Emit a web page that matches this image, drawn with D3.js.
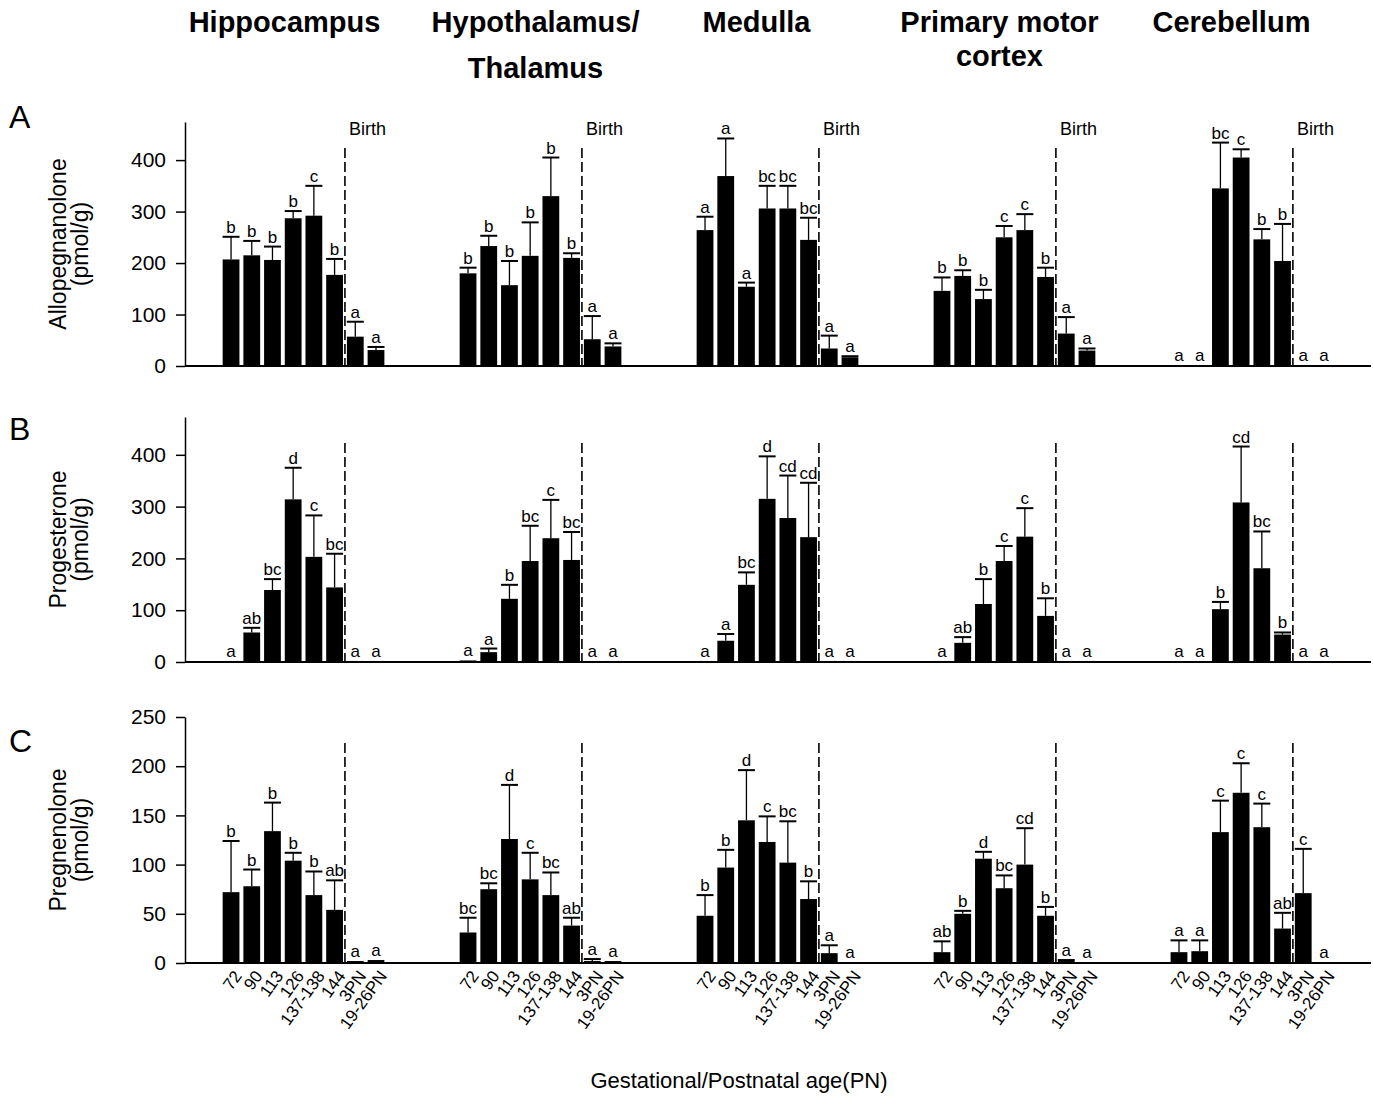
<!DOCTYPE html>
<html><head><meta charset="utf-8">
<script src="https://cdn.jsdelivr.net/npm/d3@7"></script>
<style>
body{margin:0;background:#fff}
text{font-family:Arial,"Liberation Sans",Helvetica,sans-serif;fill:#000}
</style>
</head><body>
<svg id="c" width="1373" height="1096"></svg>
<script>
// ---------------- DATA ----------------
const regions = ["Hippocampus","Hypothalamus/Thalamus","Medulla","Primary motor cortex","Cerebellum"];
const regionTitleLines = [["Hippocampus"],["Hypothalamus/","Thalamus"],["Medulla"],["Primary motor","cortex"],["Cerebellum"]];
const ages = ["72","90","113","126","137-138","144","3PN","19-26PN"];

// A: Allopregnanolone (pmol/g) — mean per region x age
const alloMean = [
  [207,215,206,287,292,177,57,31],
  [180,233,157,214,330,210,52,38],
  [264,369,154,306,306,245,34,17],
  [146,175,130,250,264,173,63,30],
  [1,1,345,405,246,204,1,1]
];
const alloSem = [
  [44,28,26,14,58,31,29,6],
  [11,20,47,65,75,9,45,6],
  [26,73,8,44,44,43,25,2],
  [26,11,18,22,31,18,32,4],
  [0,0,89,16,20,72,0,0]
];
const alloSig = [
  ["b","b","b","b","c","b","a","a"],
  ["b","b","b","b","b","b","a","a"],
  ["a","a","a","bc","bc","bc","a","a"],
  ["b","b","b","c","c","b","a","a"],
  ["a","a","bc","c","b","b","a","a"]
];

// B: Progesterone (pmol/g)
const progMean = [
  [2,57,139,314,203,144,2,2],
  [3,19,122,195,239,197,2,2],
  [2,41,149,315,278,241,2,2],
  [2,37,112,195,242,89,2,2],
  [1,1,102,308,181,53,1,1]
];
const progSem = [
  [0,9,21,61,80,65,0,0],
  [0,7,27,68,74,54,0,0],
  [0,13,24,82,82,105,0,0],
  [0,11,48,29,55,34,0,0],
  [0,0,14,108,71,4,0,0]
];
const progSig = [
  ["a","ab","bc","d","c","bc","a","a"],
  ["a","a","b","bc","c","bc","a","a"],
  ["a","a","bc","d","cd","cd","a","a"],
  ["a","ab","b","c","c","b","a","a"],
  ["a","a","b","cd","bc","b","a","a"]
];

// C: Pregnenolone (pmol/g)
const pregMean = [
  [72,78,134,104,69,54,2,3],
  [31,75,126,85,69,38,2,2],
  [48,97,145,123,102,65,10,1],
  [11,50,106,76,100,48,2,1],
  [11,12,133,173,138,35,71,1]
];
const pregSem = [
  [52,17,29,8,24,30,0,0],
  [15,6,55,27,23,8,2,0],
  [21,18,51,26,42,18,8,0],
  [11,3,7,13,37,9,1,0],
  [12,11,32,30,24,16,45,0]
];
const pregSig = [
  ["b","b","b","b","b","ab","a","a"],
  ["bc","bc","d","c","bc","ab","a","a"],
  ["b","b","d","c","bc","b","a","a"],
  ["ab","b","d","bc","cd","b","a","a"],
  ["a","a","c","c","c","ab","c","a"]
];

const alloTicks = [0,100,200,300,400];
const progTicks = [0,100,200,300,400];
const pregTicks = [0,50,100,150,200,250];

// ---------------- LAYOUT ----------------
const svg = d3.select("#c");
const axisX = 185, axisRight = 1371;
const x0 = d3.scaleBand().domain(regions).range([220.7, 1334.3]).paddingInner(0.301).paddingOuter(0);
const x1 = d3.scaleBand().domain(ages).range([0, x0.bandwidth()]).paddingInner(0.19).paddingOuter(0.095);
const titleDx = [-19, -5, -21, -15, -20];

// Column titles
regions.forEach((r, i) => {
  const cx = x0(r) + x0.bandwidth() / 2 + titleDx[i];
  const lines = regionTitleLines[i];
  const gaps = lines.length > 1 && i === 1 ? 46 : 34;
  lines.forEach((t, j) => {
    svg.append("text").attr("x", cx).attr("y", 32 + j * gaps)
      .attr("text-anchor", "middle").attr("font-size", 29).attr("font-weight", "bold").text(t);
  });
});

function panel(cfg) {
  const g = svg.append("g");
  const y = d3.scaleLinear().domain([0, cfg.max]).range([cfg.y0, cfg.yTop]);
  // panel letter
  g.append("text").attr("x", 9).attr("y", cfg.letterY).attr("font-size", 32).text(cfg.letter);
  // y axis title
  const cy = (cfg.y0 + cfg.yTop) / 2;
  g.append("text").attr("transform", `translate(66,${cy}) rotate(-90)`)
    .attr("text-anchor", "middle").attr("font-size", 23).text(cfg.yTitle[0]);
  g.append("text").attr("transform", `translate(88,${cy}) rotate(-90)`)
    .attr("text-anchor", "middle").attr("font-size", 23).text(cfg.yTitle[1]);
  // y axis
  const ax = g.append("g").attr("transform", `translate(${axisX},0)`)
    .call(d3.axisLeft(y).tickValues(cfg.ticks).tickSize(9).tickSizeOuter(0).tickPadding(10));
  ax.attr("font-family", null).attr("font-size", null);
  ax.selectAll("text").attr("font-size", 21).attr("fill", "#000");
  ax.selectAll("line").attr("stroke", "#000").attr("stroke-width", 1.5);
  ax.select(".domain").attr("stroke", "#000").attr("stroke-width", 1.5);
  // baseline
  g.append("line").attr("x1", axisX).attr("x2", axisRight).attr("y1", cfg.y0).attr("y2", cfg.y0)
    .attr("stroke", "#000").attr("stroke-width", 2.2);

  regions.forEach((r, ri) => {
    const gx = x0(r);
    ages.forEach((a, ai) => {
      const m = cfg.mean[ri][ai], s = cfg.sem[ri][ai];
      const bx = gx + x1(a), bw = x1.bandwidth(), cx = bx + bw / 2;
      g.append("rect").attr("x", bx).attr("y", y(m)).attr("width", bw)
        .attr("height", cfg.y0 - y(m)).attr("fill", "#000");
      const top = y(m + s);
      if (s > 0) {
        g.append("line").attr("x1", cx).attr("x2", cx).attr("y1", y(m)).attr("y2", top)
          .attr("stroke", "#000").attr("stroke-width", 1.3);
        g.append("line").attr("x1", cx - 8.5).attr("x2", cx + 8.5).attr("y1", top).attr("y2", top)
          .attr("stroke", "#000").attr("stroke-width", 2);
      }
      g.append("text").attr("x", cx).attr("y", top - 4).attr("text-anchor", "middle")
        .attr("font-size", 17).text(cfg.sig[ri][ai]);
    });
    // birth line
    const bxl = gx + x1(ages[6]) - (x1.step() - x1.bandwidth()) / 2;
    g.append("line").attr("x1", bxl).attr("x2", bxl).attr("y1", cfg.yTop + 26).attr("y2", cfg.y0)
      .attr("stroke", "#000").attr("stroke-width", 1.6).attr("stroke-dasharray", "10,4");
    if (cfg.birth) {
      g.append("text").attr("x", bxl + 4).attr("y", 135).attr("font-size", 18).text("Birth");
    }
    if (cfg.xLabels) {
      ages.forEach(a => {
        const cx = gx + x1(a) + x1.bandwidth() / 2 + 2;
        g.append("text").attr("transform", `translate(${cx},${cfg.y0 + 6}) rotate(-54)`)
          .attr("text-anchor", "end").attr("dy", "0.7em").attr("font-size", 17).text(a);
      });
    }
  });
}

panel({letter: "A", letterY: 128, y0: 366, yTop: 122, max: 474, ticks: alloTicks,
  yTitle: ["Allopegnanolone", "(pmol/g)"], mean: alloMean, sem: alloSem, sig: alloSig, birth: true});
panel({letter: "B", letterY: 440, y0: 662, yTop: 417, max: 473, ticks: progTicks,
  yTitle: ["Progesterone", "(pmol/g)"], mean: progMean, sem: progSem, sig: progSig});
panel({letter: "C", letterY: 752, y0: 963, yTop: 717, max: 250, ticks: pregTicks,
  yTitle: ["Pregnenolone", "(pmol/g)"], mean: pregMean, sem: pregSem, sig: pregSig, xLabels: true});

svg.append("text").attr("x", 739).attr("y", 1088).attr("text-anchor", "middle")
  .attr("font-size", 22).text("Gestational/Postnatal age(PN)");
</script>
</body></html>
